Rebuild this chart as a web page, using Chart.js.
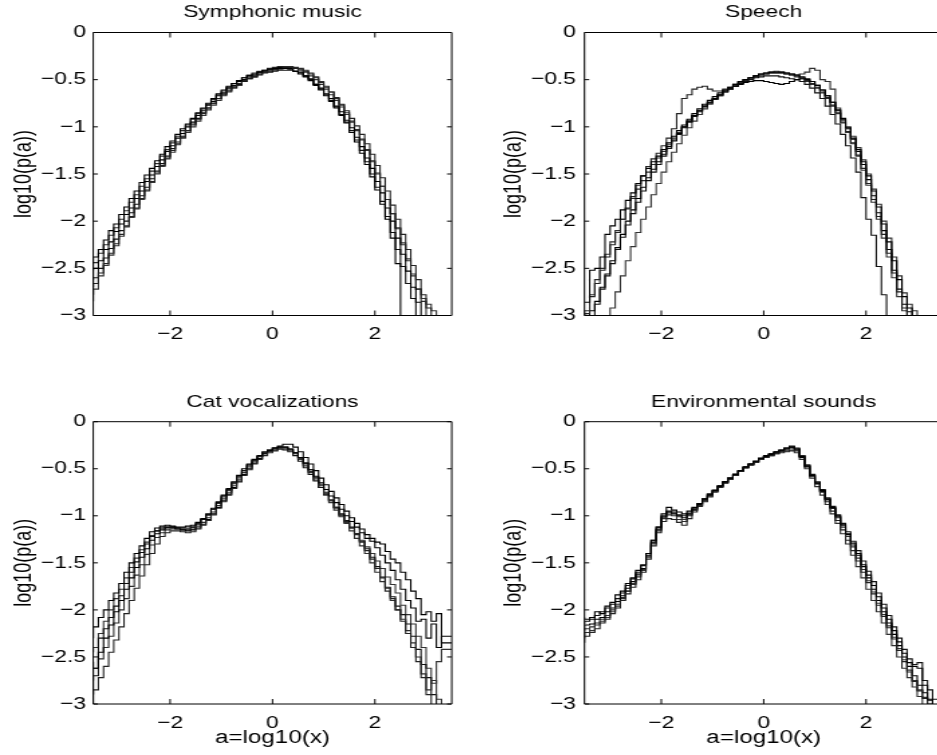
<!DOCTYPE html>
<html><head><meta charset="utf-8">
<script src="https://cdn.jsdelivr.net/npm/chart.js@4.4.1/dist/chart.umd.min.js"></script>
<style>
html,body{margin:0;padding:0;width:937px;height:755px;overflow:hidden;background:#fff;}
canvas{position:absolute;transform-origin:0 0;transform:scaleX(1.34);}
</style></head><body>
<canvas id="c1" width="345" height="345" style="left:0px;top:0px"></canvas>
<canvas id="c2" width="360" height="345" style="left:467px;top:0px"></canvas>
<canvas id="c3" width="345" height="380" style="left:0px;top:375px"></canvas>
<canvas id="c4" width="360" height="380" style="left:467px;top:375px"></canvas>
<script>
const binEdges = [-3.5,-3.4,-3.3,-3.2,-3.1,-3.0,-2.9,-2.8,-2.7,-2.6,-2.5,-2.4,-2.3,-2.2,-2.1,-2.0,-1.9,-1.8,-1.7,-1.6,-1.5,-1.4,-1.3,-1.2,-1.1,-1.0,-0.9,-0.8,-0.7,-0.6,-0.5,-0.4,-0.3,-0.2,-0.1,0.0,0.1,0.2,0.3,0.4,0.5,0.6,0.7,0.8,0.9,1.0,1.1,1.2,1.3,1.4,1.5,1.6,1.7,1.8,1.9,2.0,2.1,2.2,2.3,2.4,2.5,2.6,2.7,2.8,2.9,3.0,3.1,3.2,3.3,3.4,3.5];
const xTicks = [-2, 0, 2];
const yTicks = [0, -0.5, -1, -1.5, -2, -2.5, -3];
const panelTitles = ['Symphonic music', 'Speech', 'Cat vocalizations', 'Environmental sounds'];
const yLabel = 'log10(p(a))';
const xLabel = 'a=log10(x)';

const sym1 = [-2.45,-2.38,-2.30,-2.20,-2.10,-2.03,-1.93,-1.85,-1.76,-1.68,-1.59,-1.51,-1.44,-1.36,-1.29,-1.21,-1.15,-1.08,-1.02,-0.97,-0.91,-0.85,-0.80,-0.75,-0.70,-0.65,-0.61,-0.57,-0.54,-0.51,-0.48,-0.46,-0.44,-0.42,-0.40,-0.39,-0.38,-0.38,-0.38,-0.39,-0.41,-0.44,-0.47,-0.51,-0.56,-0.61,-0.67,-0.73,-0.80,-0.88,-0.96,-1.06,-1.16,-1.28,-1.40,-1.53,-1.67,-1.82,-1.98,-2.18,-2.45,-4,-4,-4,-4,-4,-4,-4,-4,-4];
const sym2 = [-2.78,-2.66,-2.55,-2.45,-2.34,-2.24,-2.14,-2.05,-1.95,-1.86,-1.76,-1.67,-1.58,-1.49,-1.41,-1.33,-1.25,-1.18,-1.11,-1.04,-0.98,-0.92,-0.86,-0.80,-0.75,-0.70,-0.65,-0.61,-0.57,-0.54,-0.51,-0.48,-0.46,-0.44,-0.42,-0.40,-0.39,-0.38,-0.37,-0.37,-0.38,-0.39,-0.41,-0.44,-0.48,-0.53,-0.58,-0.63,-0.69,-0.76,-0.83,-0.91,-0.99,-1.08,-1.18,-1.29,-1.41,-1.54,-1.68,-1.83,-1.98,-2.14,-2.30,-2.47,-2.62,-2.78,-2.92,-3.2,-4,-4];
const sym3 = [-2.62,-2.50,-2.42,-2.30,-2.22,-2.11,-2.03,-1.93,-1.86,-1.76,-1.68,-1.58,-1.51,-1.42,-1.35,-1.26,-1.20,-1.12,-1.07,-1.00,-0.95,-0.88,-0.83,-0.77,-0.73,-0.67,-0.64,-0.59,-0.56,-0.52,-0.50,-0.46,-0.45,-0.42,-0.41,-0.39,-0.39,-0.37,-0.38,-0.38,-0.41,-0.42,-0.46,-0.49,-0.55,-0.59,-0.65,-0.70,-0.78,-0.84,-0.93,-1.01,-1.11,-1.21,-1.33,-1.44,-1.58,-1.70,-1.86,-2.00,-2.18,-2.35,-2.53,-2.70,-2.86,-3.2,-4,-4,-4,-4];
const sym4 = [-2.52,-2.44,-2.34,-2.25,-2.15,-2.07,-1.98,-1.89,-1.80,-1.72,-1.63,-1.55,-1.47,-1.39,-1.31,-1.24,-1.17,-1.10,-1.04,-0.98,-0.92,-0.86,-0.81,-0.76,-0.71,-0.66,-0.62,-0.58,-0.54,-0.51,-0.48,-0.45,-0.43,-0.41,-0.40,-0.38,-0.37,-0.36,-0.36,-0.36,-0.37,-0.38,-0.40,-0.43,-0.47,-0.52,-0.57,-0.63,-0.70,-0.77,-0.85,-0.94,-1.03,-1.13,-1.24,-1.36,-1.49,-1.63,-1.77,-1.92,-2.08,-2.25,-2.42,-2.58,-2.72,-2.85,-3.2,-4,-4,-4];
const sym5 = [-2.70,-2.60,-2.50,-2.39,-2.29,-2.19,-2.10,-2.00,-1.91,-1.82,-1.73,-1.64,-1.55,-1.47,-1.39,-1.31,-1.23,-1.16,-1.10,-1.04,-0.97,-0.91,-0.85,-0.80,-0.75,-0.70,-0.66,-0.62,-0.58,-0.55,-0.52,-0.49,-0.47,-0.45,-0.43,-0.42,-0.41,-0.40,-0.40,-0.40,-0.41,-0.43,-0.46,-0.50,-0.55,-0.60,-0.66,-0.72,-0.79,-0.87,-0.95,-1.04,-1.14,-1.25,-1.37,-1.50,-1.64,-1.79,-1.95,-2.12,-2.30,-2.48,-2.66,-2.82,-3.2,-4,-4,-4,-4,-4];
const sym6 = [-2.85,-2.72,-2.58,-2.47,-2.36,-2.26,-2.16,-2.06,-1.96,-1.87,-1.77,-1.68,-1.59,-1.50,-1.42,-1.34,-1.27,-1.19,-1.12,-1.06,-1.00,-0.94,-0.88,-0.82,-0.77,-0.72,-0.67,-0.63,-0.59,-0.56,-0.52,-0.49,-0.47,-0.44,-0.42,-0.41,-0.40,-0.39,-0.38,-0.38,-0.38,-0.40,-0.42,-0.46,-0.50,-0.55,-0.60,-0.66,-0.72,-0.79,-0.87,-0.95,-1.04,-1.14,-1.25,-1.37,-1.50,-1.63,-1.77,-1.92,-2.07,-2.23,-2.40,-2.56,-2.72,-2.82,-2.88,-2.95,-3.2,-4];

const sp1 = [-2.86,-2.86,-2.52,-2.50,-2.38,-2.14,-2.05,-1.98,-1.88,-1.78,-1.70,-1.60,-1.52,-1.44,-1.37,-1.31,-1.24,-1.17,-1.10,-1.04,-0.98,-0.92,-0.86,-0.81,-0.76,-0.72,-0.68,-0.64,-0.61,-0.58,-0.55,-0.52,-0.50,-0.48,-0.46,-0.44,-0.43,-0.42,-0.42,-0.42,-0.43,-0.44,-0.45,-0.47,-0.49,-0.52,-0.56,-0.61,-0.67,-0.74,-0.82,-0.91,-1.01,-1.12,-1.24,-1.37,-1.52,-1.68,-1.85,-2.03,-2.22,-2.42,-2.62,-2.80,-2.92,-4,-4,-4,-4,-4];
const sp2 = [-3.2,-2.98,-2.80,-2.66,-2.52,-2.38,-2.25,-2.12,-1.98,-1.86,-1.74,-1.62,-1.52,-1.42,-1.34,-1.28,-1.20,-1.12,-1.02,-0.86,-0.70,-0.66,-0.60,-0.58,-0.57,-0.60,-0.62,-0.62,-0.60,-0.58,-0.55,-0.52,-0.50,-0.48,-0.46,-0.45,-0.44,-0.43,-0.43,-0.43,-0.44,-0.45,-0.46,-0.48,-0.51,-0.54,-0.58,-0.63,-0.69,-0.77,-0.85,-0.95,-1.05,-1.17,-1.30,-1.44,-1.60,-1.77,-1.95,-2.14,-2.34,-2.55,-2.75,-2.92,-4,-4,-4,-4,-4,-4];
const sp3 = [-3.2,-3.2,-2.95,-2.85,-2.70,-2.56,-2.42,-2.28,-2.14,-2.00,-1.88,-1.76,-1.64,-1.54,-1.45,-1.37,-1.29,-1.21,-1.14,-1.07,-1.00,-0.94,-0.88,-0.83,-0.78,-0.74,-0.70,-0.66,-0.62,-0.59,-0.57,-0.55,-0.53,-0.52,-0.51,-0.51,-0.52,-0.53,-0.54,-0.55,-0.54,-0.52,-0.50,-0.49,-0.50,-0.52,-0.56,-0.61,-0.67,-0.74,-0.83,-0.92,-1.02,-1.13,-1.26,-1.40,-1.56,-1.73,-1.91,-2.10,-2.30,-2.52,-2.72,-2.88,-2.96,-4,-4,-4,-4,-4];
const sp4 = [-3.2,-2.95,-2.78,-2.62,-2.50,-2.35,-2.22,-2.10,-1.98,-1.87,-1.76,-1.66,-1.57,-1.48,-1.40,-1.33,-1.26,-1.19,-1.12,-1.06,-1.00,-0.94,-0.88,-0.83,-0.78,-0.74,-0.70,-0.66,-0.62,-0.59,-0.56,-0.53,-0.50,-0.48,-0.46,-0.44,-0.43,-0.42,-0.41,-0.42,-0.43,-0.44,-0.45,-0.44,-0.42,-0.38,-0.40,-0.50,-0.52,-0.60,-0.80,-0.93,-1.00,-1.10,-1.22,-1.35,-1.50,-1.66,-1.82,-2.00,-2.18,-2.38,-2.58,-2.76,-2.88,-2.95,-4,-4,-4,-4];
const sp5 = [-3.2,-3.2,-3.0,-2.88,-2.72,-2.58,-2.45,-2.30,-2.17,-2.04,-1.92,-1.80,-1.68,-1.57,-1.48,-1.40,-1.31,-1.23,-1.15,-1.08,-1.01,-0.95,-0.89,-0.84,-0.79,-0.75,-0.71,-0.67,-0.63,-0.60,-0.57,-0.54,-0.52,-0.50,-0.48,-0.47,-0.46,-0.46,-0.46,-0.47,-0.48,-0.49,-0.50,-0.52,-0.55,-0.59,-0.64,-0.70,-0.78,-0.87,-0.97,-1.08,-1.20,-1.33,-1.48,-1.75,-1.98,-2.15,-2.48,-2.78,-4,-4,-4,-4,-4,-4,-4,-4,-4,-4];
const sp6 = [-4,-4,-4,-4,-4,-4,-2.92,-2.75,-2.58,-2.42,-2.27,-2.12,-1.98,-1.85,-1.72,-1.60,-1.48,-1.37,-1.27,-1.18,-1.09,-1.01,-0.94,-0.87,-0.81,-0.76,-0.71,-0.67,-0.63,-0.60,-0.57,-0.54,-0.51,-0.49,-0.47,-0.45,-0.44,-0.43,-0.43,-0.43,-0.44,-0.45,-0.47,-0.49,-0.52,-0.55,-0.59,-0.64,-0.70,-0.78,-0.86,-0.96,-1.06,-1.18,-1.31,-1.46,-1.62,-1.80,-1.98,-2.18,-2.38,-2.60,-2.80,-2.95,-4,-4,-4,-4,-4,-4];

const cat1 = [-2.30,-2.18,-2.08,-2.00,-1.90,-1.82,-1.72,-1.60,-1.50,-1.40,-1.32,-1.24,-1.17,-1.13,-1.11,-1.10,-1.11,-1.12,-1.12,-1.11,-1.10,-1.07,-1.03,-0.98,-0.92,-0.85,-0.78,-0.71,-0.64,-0.57,-0.50,-0.45,-0.40,-0.36,-0.32,-0.30,-0.28,-0.27,-0.27,-0.29,-0.33,-0.38,-0.44,-0.51,-0.58,-0.65,-0.72,-0.79,-0.86,-0.93,-1.00,-1.06,-1.12,-1.18,-1.24,-1.24,-1.28,-1.30,-1.38,-1.46,-1.50,-1.60,-1.68,-1.80,-1.88,-2.05,-2.02,-2.12,-2.04,-2.35];
const cat2 = [-3.2,-2.85,-2.72,-2.60,-2.45,-2.32,-2.18,-2.04,-1.90,-1.77,-1.64,-1.52,-1.40,-1.30,-1.22,-1.18,-1.16,-1.16,-1.17,-1.18,-1.17,-1.14,-1.10,-1.05,-0.99,-0.92,-0.85,-0.78,-0.71,-0.64,-0.57,-0.51,-0.45,-0.40,-0.36,-0.33,-0.31,-0.29,-0.29,-0.30,-0.33,-0.38,-0.44,-0.51,-0.59,-0.67,-0.75,-0.83,-0.91,-0.99,-1.06,-1.13,-1.20,-1.28,-1.37,-1.46,-1.56,-1.66,-1.77,-1.88,-2.00,-2.12,-2.25,-2.40,-2.55,-2.72,-2.90,-3.2,-4,-4];
const cat3 = [-2.55,-2.62,-2.45,-2.30,-2.16,-2.02,-1.90,-1.78,-1.66,-1.55,-1.44,-1.35,-1.26,-1.19,-1.15,-1.13,-1.13,-1.14,-1.15,-1.16,-1.15,-1.13,-1.09,-1.04,-0.98,-0.91,-0.84,-0.77,-0.70,-0.63,-0.56,-0.50,-0.44,-0.39,-0.34,-0.31,-0.28,-0.26,-0.24,-0.24,-0.27,-0.32,-0.38,-0.45,-0.52,-0.60,-0.67,-0.74,-0.81,-0.88,-0.95,-1.02,-1.08,-1.14,-1.20,-1.27,-1.34,-1.42,-1.50,-1.58,-1.68,-1.78,-1.90,-1.98,-2.12,-2.10,-2.30,-2.15,-2.40,-2.28];
const cat4 = [-2.75,-2.62,-2.52,-2.40,-2.28,-2.14,-2.00,-1.88,-1.75,-1.63,-1.52,-1.41,-1.31,-1.23,-1.18,-1.15,-1.14,-1.14,-1.15,-1.15,-1.14,-1.11,-1.07,-1.02,-0.96,-0.89,-0.82,-0.75,-0.68,-0.61,-0.54,-0.48,-0.42,-0.37,-0.33,-0.30,-0.28,-0.27,-0.27,-0.29,-0.33,-0.39,-0.46,-0.53,-0.60,-0.68,-0.76,-0.84,-0.92,-1.00,-1.08,-1.16,-1.24,-1.32,-1.40,-1.50,-1.60,-1.70,-1.80,-1.90,-2.00,-2.10,-2.22,-2.35,-2.50,-2.68,-2.85,-2.75,-2.95,-3.2];
const cat5 = [-2.90,-2.70,-2.30,-2.20,-2.08,-1.96,-1.85,-1.72,-1.60,-1.49,-1.39,-1.30,-1.22,-1.16,-1.13,-1.12,-1.12,-1.13,-1.14,-1.14,-1.12,-1.09,-1.04,-0.99,-0.93,-0.86,-0.79,-0.72,-0.65,-0.58,-0.52,-0.46,-0.41,-0.37,-0.33,-0.31,-0.30,-0.29,-0.30,-0.32,-0.36,-0.42,-0.49,-0.56,-0.63,-0.70,-0.77,-0.84,-0.91,-0.98,-1.05,-1.12,-1.19,-1.27,-1.35,-1.44,-1.54,-1.65,-1.76,-1.86,-1.96,-2.05,-2.15,-2.28,-2.42,-2.58,-2.72,-2.90,-3.2,-4];
const cat6 = [-2.45,-2.40,-2.25,-2.12,-2.00,-1.88,-1.78,-1.66,-1.55,-1.45,-1.36,-1.28,-1.21,-1.16,-1.13,-1.12,-1.12,-1.13,-1.13,-1.13,-1.12,-1.08,-1.04,-0.99,-0.93,-0.87,-0.80,-0.73,-0.66,-0.59,-0.52,-0.46,-0.41,-0.37,-0.34,-0.31,-0.29,-0.28,-0.28,-0.30,-0.34,-0.40,-0.47,-0.54,-0.62,-0.70,-0.78,-0.86,-0.94,-1.01,-1.07,-1.13,-1.19,-1.26,-1.33,-1.40,-1.48,-1.56,-1.65,-1.73,-1.82,-1.95,-2.05,-2.15,-2.28,-2.40,-2.62,-2.78,-2.55,-2.42];

const env1 = [-2.08,-2.10,-2.08,-2.02,-2.04,-1.96,-1.92,-1.84,-1.80,-1.72,-1.66,-1.58,-1.52,-1.40,-1.26,-1.12,-0.98,-0.91,-0.94,-0.96,-0.98,-0.95,-0.91,-0.87,-0.82,-0.77,-0.73,-0.68,-0.64,-0.60,-0.56,-0.52,-0.48,-0.45,-0.42,-0.39,-0.36,-0.34,-0.32,-0.30,-0.28,-0.27,-0.29,-0.37,-0.47,-0.57,-0.65,-0.73,-0.82,-0.91,-1.00,-1.09,-1.19,-1.29,-1.40,-1.52,-1.63,-1.74,-1.86,-1.98,-2.10,-2.22,-2.34,-2.46,-2.56,-2.60,-2.62,-2.80,-2.95,-3.2];
const env2 = [-2.35,-2.28,-2.24,-2.20,-2.14,-2.10,-2.04,-1.98,-1.90,-1.83,-1.76,-1.68,-1.60,-1.46,-1.32,-1.18,-1.06,-1.03,-1.04,-1.07,-1.10,-1.03,-0.96,-0.90,-0.85,-0.80,-0.75,-0.70,-0.65,-0.61,-0.57,-0.53,-0.49,-0.46,-0.43,-0.40,-0.38,-0.36,-0.34,-0.32,-0.31,-0.30,-0.31,-0.36,-0.46,-0.57,-0.66,-0.75,-0.85,-0.95,-1.05,-1.15,-1.26,-1.37,-1.48,-1.60,-1.71,-1.83,-1.95,-2.07,-2.19,-2.31,-2.43,-2.55,-2.66,-2.76,-2.86,-2.94,-3.2,-4];
const env3 = [-2.22,-2.16,-2.15,-2.10,-2.08,-2.02,-1.98,-1.91,-1.85,-1.77,-1.70,-1.62,-1.56,-1.42,-1.28,-1.14,-1.01,-0.96,-0.98,-1.00,-1.02,-0.98,-0.93,-0.88,-0.83,-0.78,-0.73,-0.69,-0.64,-0.60,-0.56,-0.52,-0.49,-0.45,-0.42,-0.39,-0.37,-0.35,-0.33,-0.31,-0.29,-0.28,-0.30,-0.38,-0.48,-0.58,-0.66,-0.74,-0.83,-0.92,-1.01,-1.10,-1.20,-1.31,-1.42,-1.54,-1.66,-1.78,-1.90,-2.02,-2.14,-2.26,-2.38,-2.50,-2.60,-2.70,-2.80,-2.88,-2.96,-3.2];
const env4 = [-2.28,-2.24,-2.18,-2.14,-2.10,-2.06,-2.00,-1.94,-1.87,-1.80,-1.73,-1.65,-1.58,-1.44,-1.30,-1.16,-1.03,-0.99,-1.00,-1.04,-1.06,-1.00,-0.94,-0.89,-0.84,-0.79,-0.74,-0.69,-0.65,-0.61,-0.57,-0.53,-0.49,-0.46,-0.43,-0.40,-0.38,-0.36,-0.34,-0.33,-0.32,-0.31,-0.33,-0.40,-0.50,-0.60,-0.69,-0.78,-0.88,-0.98,-1.08,-1.19,-1.30,-1.42,-1.54,-1.66,-1.78,-1.90,-2.02,-2.14,-2.26,-2.38,-2.50,-2.62,-2.72,-2.82,-2.92,-3.2,-4,-4];
const env5 = [-2.15,-2.12,-2.10,-2.06,-2.02,-1.98,-1.94,-1.88,-1.82,-1.74,-1.67,-1.60,-1.53,-1.40,-1.26,-1.12,-1.00,-0.95,-0.96,-0.99,-1.00,-0.97,-0.92,-0.87,-0.82,-0.77,-0.73,-0.68,-0.64,-0.60,-0.56,-0.52,-0.48,-0.45,-0.42,-0.39,-0.37,-0.34,-0.32,-0.30,-0.28,-0.26,-0.28,-0.36,-0.46,-0.56,-0.64,-0.72,-0.81,-0.90,-0.99,-1.08,-1.17,-1.27,-1.37,-1.48,-1.59,-1.70,-1.82,-1.94,-2.06,-2.18,-2.30,-2.42,-2.52,-2.58,-2.56,-2.75,-2.85,-2.95];
const env6 = [-2.30,-2.20,-2.22,-2.16,-2.12,-2.08,-2.02,-1.96,-1.88,-1.80,-1.72,-1.64,-1.57,-1.43,-1.29,-1.15,-1.02,-0.97,-0.97,-1.01,-1.04,-0.99,-0.94,-0.89,-0.84,-0.79,-0.74,-0.69,-0.65,-0.61,-0.57,-0.53,-0.49,-0.46,-0.43,-0.40,-0.37,-0.35,-0.33,-0.31,-0.29,-0.27,-0.29,-0.37,-0.47,-0.57,-0.66,-0.74,-0.83,-0.92,-1.02,-1.12,-1.22,-1.33,-1.45,-1.57,-1.69,-1.81,-1.93,-2.05,-2.17,-2.29,-2.41,-2.53,-2.64,-2.75,-2.85,-2.93,-3.0,-3.2];

const lineColors = ['#000000', '#222222', '#000000', '#2e2e2e', '#111111', '#333333'];

Chart.defaults.font.family = '"Liberation Sans", Arial, Helvetica, sans-serif';
Chart.defaults.color = '#000';

const fmt = v => (v < 0 ? '\u2212' : '') + String(Math.abs(v));

const frame = {
  id: 'frame',
  afterDatasetsDraw(chart) {
    const {ctx, chartArea: a, scales: {x, y}} = chart;
    ctx.save();
    ctx.strokeStyle = '#000';
    ctx.lineWidth = 1;
    ctx.beginPath();
    ctx.rect(a.left, a.top, a.right - a.left, a.bottom - a.top);
    x.ticks.forEach(t => {
      const p = x.getPixelForValue(t.value);
      ctx.moveTo(p, a.bottom); ctx.lineTo(p, a.bottom - 5);
      ctx.moveTo(p, a.top); ctx.lineTo(p, a.top + 5);
    });
    y.ticks.forEach(t => {
      const p = y.getPixelForValue(t.value);
      ctx.moveTo(a.left, p); ctx.lineTo(a.left + 3.5, p);
      ctx.moveTo(a.right, p); ctx.lineTo(a.right - 3.5, p);
    });
    ctx.stroke();
    ctx.restore();
  }
};

function build(id, title, series, o) {
  new Chart(document.getElementById(id), {
    type: 'line',
    data: {
      datasets: series.map((v, i) => ({
        data: v.map((yv, j) => ({x: binEdges[j], y: yv})).concat([{x: binEdges[v.length], y: v[v.length - 1]}]),
        stepped: 'after',
        borderColor: lineColors[i % lineColors.length],
        borderWidth: 1.1,
        pointRadius: 0,
        fill: false
      }))
    },
    options: {
      responsive: false,
      animation: false,
      devicePixelRatio: 1,
      layout: {padding: {left: 0, right: o.padR, top: 0, bottom: 0}},
      plugins: {
        legend: {display: false},
        tooltip: {enabled: false},
        title: {display: true, text: title, fullSize: false, color: '#000',
          font: {size: 17, weight: 'normal'}, padding: {top: o.tTop, bottom: o.tBottom}}
      },
      scales: {
        x: {
          type: 'linear', min: -3.5, max: 3.5,
          grid: {display: false, drawTicks: false},
          border: {display: false},
          afterBuildTicks: s => { s.ticks = xTicks.map(v => ({value: v})); },
          afterFit: s => { s.height = o.xh; s.paddingLeft = 0; s.paddingRight = 0; },
          ticks: {padding: 9, font: {size: 17}, color: '#000', maxRotation: 0, autoSkip: false, callback: v => fmt(v)},
          title: {display: o.xLabel, text: xLabel, color: '#000', font: {size: 18}, padding: {top: 0, bottom: o.xtPad}}
        },
        y: {
          type: 'linear', min: -3, max: 0,
          grid: {display: false, drawTicks: false},
          border: {display: false},
          afterBuildTicks: s => { s.ticks = yTicks.map(v => ({value: v})); },
          afterFit: s => { s.width = o.yw; s.paddingTop = 0; s.paddingBottom = 0; },
          ticks: {padding: o.ytp, font: {size: 17}, color: '#000', autoSkip: false, callback: v => fmt(v)},
          title: {display: true, text: yLabel, color: '#000', font: {size: 18}, padding: {top: o.ytPad, bottom: 0}}
        }
      }
    },
    plugins: [frame]
  });
}

build('c1', panelTitles[0], [sym1, sym2, sym3, sym4, sym5, sym6],
  {padR: 7.9, tTop: 2.1, tBottom: 10, xh: 29.5, xLabel: false, xtPad: 0, yw: 69.6, ytp: 5.5, ytPad: 7.2});
build('c2', panelTitles[1], [sp1, sp2, sp3, sp4, sp5, sp6],
  {padR: 4.9, tTop: 2.1, tBottom: 10, xh: 29.5, xLabel: false, xtPad: 0, yw: 87.7, ytp: 6.4, ytPad: 24.3});
build('c3', panelTitles[2], [cat1, cat2, cat3, cat4, cat5, cat6],
  {padR: 7.9, tTop: 17.2, tBottom: 9.1, xh: 51, xLabel: true, xtPad: 6, yw: 69.6, ytp: 5.5, ytPad: 7.2});
build('c4', panelTitles[3], [env1, env2, env3, env4, env5, env6],
  {padR: 4.9, tTop: 17.2, tBottom: 9.1, xh: 51, xLabel: true, xtPad: 6, yw: 87.7, ytp: 6.4, ytPad: 24.3});
</script>
</body></html>
